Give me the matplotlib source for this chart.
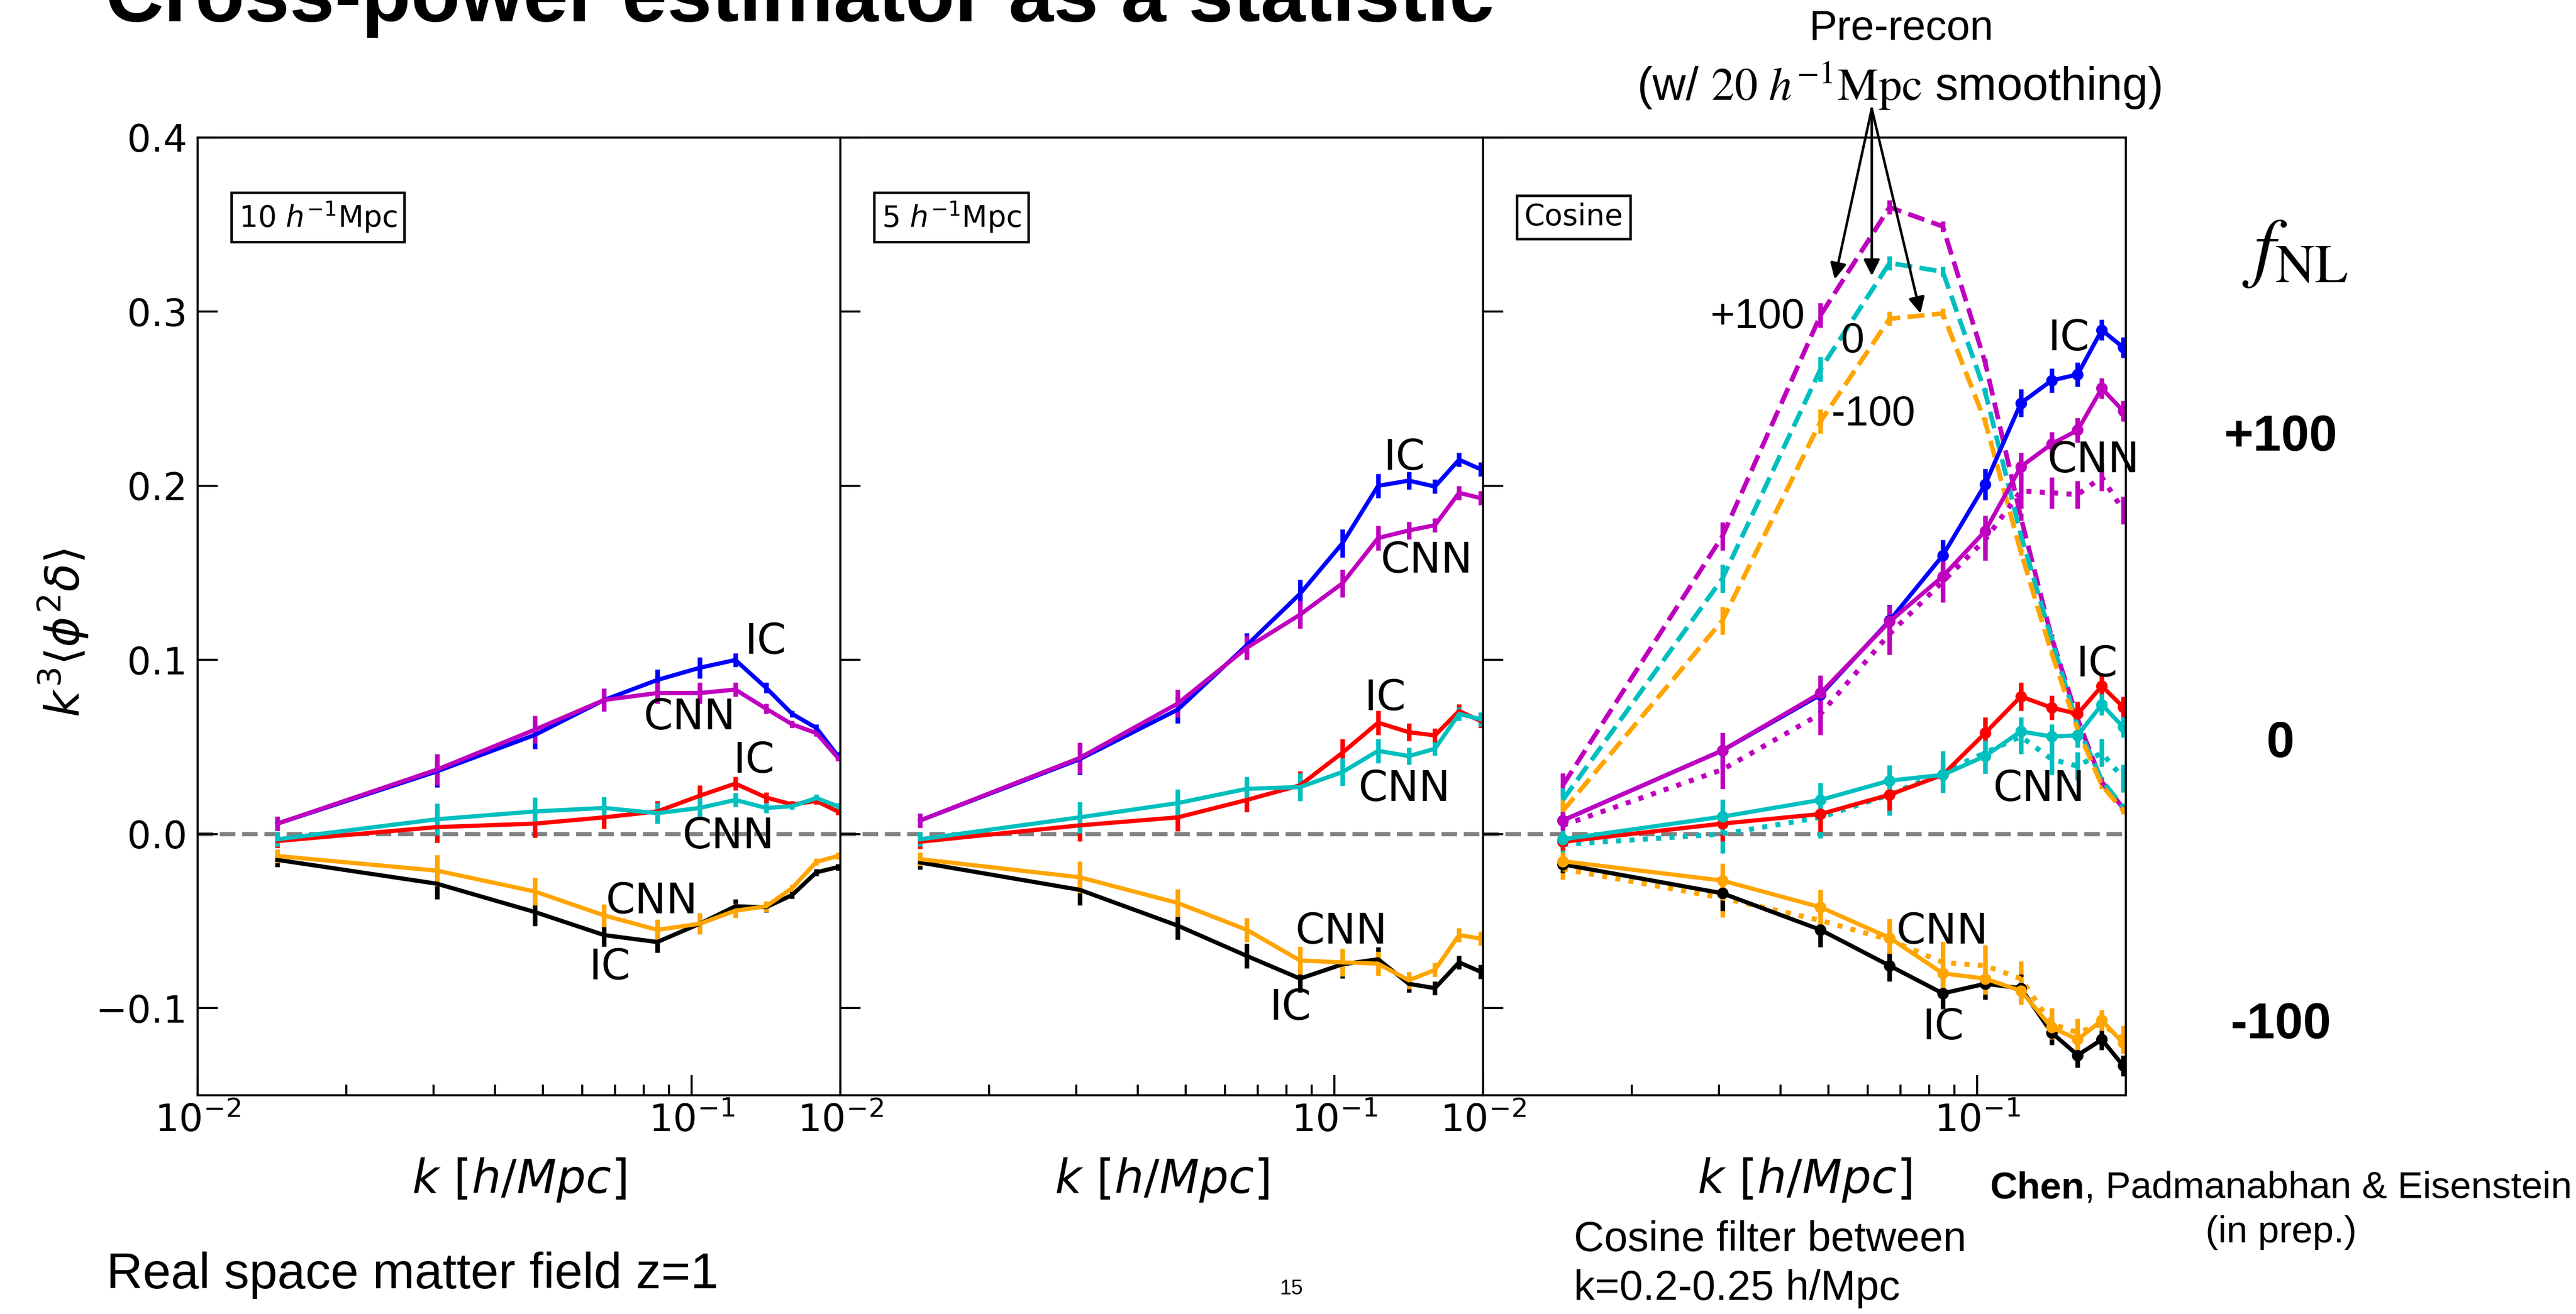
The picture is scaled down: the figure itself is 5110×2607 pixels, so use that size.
import matplotlib
matplotlib.use('Agg')
import matplotlib.pyplot as plt
from matplotlib.ticker import NullFormatter

# ---------------- data ----------------
k = [0.0145, 0.0305, 0.0482, 0.0665, 0.0852, 0.1038, 0.1226, 0.1415, 0.1598, 0.1788, 0.1975]

# panel 1 : 10 h^-1 Mpc smoothing
p1_ic_p100 = [0.006, 0.036, 0.057, 0.077, 0.0885, 0.0955, 0.100, 0.084, 0.069, 0.061, 0.045]
p1_cnn_p100 = [0.006, 0.037, 0.060, 0.077, 0.081, 0.081, 0.083, 0.072, 0.063, 0.058, 0.044]
p1_ic_0 = [-0.004, 0.004, 0.006, 0.0096, 0.013, 0.022, 0.029, 0.021, 0.017, 0.019, 0.013]
p1_cnn_0 = [-0.003, 0.0085, 0.013, 0.015, 0.012, 0.015, 0.0196, 0.015, 0.016, 0.0207, 0.016]
p1_ic_m100 = [-0.0148, -0.0285, -0.0448, -0.058, -0.062, -0.0515, -0.0415, -0.042, -0.035, -0.022, -0.019]
p1_cnn_m100 = [-0.0126, -0.021, -0.033, -0.0467, -0.055, -0.0515, -0.044, -0.0415, -0.031, -0.016, -0.0126]
p1_err = [0.004, 0.009, 0.008, 0.0065, 0.006, 0.006, 0.004, 0.003, 0.002, 0.002, 0.002]

# panel 2 : 5 h^-1 Mpc smoothing
p2_ic_p100 = [0.0078, 0.043, 0.0715, 0.1085, 0.138, 0.167, 0.200, 0.203, 0.1996, 0.215, 0.2096]
p2_cnn_p100 = [0.0078, 0.0437, 0.075, 0.107, 0.126, 0.144, 0.170, 0.1744, 0.1774, 0.196, 0.193]
p2_ic_0 = [-0.0044, 0.005, 0.0096, 0.0196, 0.028, 0.0467, 0.064, 0.0585, 0.0567, 0.0707, 0.065]
p2_cnn_0 = [-0.003, 0.0096, 0.0178, 0.026, 0.027, 0.0356, 0.0478, 0.0448, 0.049, 0.069, 0.066]
p2_ic_m100 = [-0.0163, -0.032, -0.0526, -0.070, -0.083, -0.0748, -0.0719, -0.086, -0.0885, -0.0737, -0.079]
p2_cnn_m100 = [-0.0144, -0.0248, -0.0396, -0.055, -0.0726, -0.0737, -0.0744, -0.084, -0.078, -0.058, -0.060]
p2_err = [0.004, 0.009, 0.008, 0.007, 0.008, 0.008, 0.007, 0.005, 0.004, 0.004, 0.004]

# panel 3 : cosine filter
p3_ic_p100 = [0.0078, 0.048, 0.080, 0.1226, 0.160, 0.2008, 0.2475, 0.2605, 0.264, 0.2895, 0.2795]
p3_cnn_p100 = [0.0078, 0.048, 0.081, 0.122, 0.148, 0.174, 0.211, 0.224, 0.232, 0.256, 0.243]
p3_cnnd_p100 = [0.005, 0.037, 0.069, 0.115, 0.145, 0.169, 0.197, 0.196, 0.195, 0.205, 0.186]
p3_ic_0 = [-0.0044, 0.006, 0.0115, 0.0226, 0.034, 0.058, 0.079, 0.0726, 0.069, 0.085, 0.073]
p3_cnn_0 = [-0.003, 0.010, 0.0196, 0.0307, 0.034, 0.0448, 0.059, 0.056, 0.0567, 0.0744, 0.0615]
p3_cnnd_0 = [-0.006, 0.0, 0.0096, 0.0226, 0.0356, 0.0467, 0.056, 0.043, 0.039, 0.0467, 0.032]
p3_ic_m100 = [-0.0174, -0.034, -0.055, -0.0756, -0.0915, -0.086, -0.0885, -0.114, -0.127, -0.118, -0.133]
p3_cnn_m100 = [-0.0156, -0.0267, -0.042, -0.0596, -0.080, -0.083, -0.090, -0.111, -0.118, -0.107, -0.120]
p3_cnnd_m100 = [-0.020, -0.0367, -0.0496, -0.0607, -0.0737, -0.0756, -0.083, -0.109, -0.114, -0.109, -0.118]
p3_pre_p100 = [0.028, 0.171, 0.298, 0.360, 0.349, 0.271, 0.182, 0.113, 0.066, 0.030, 0.015]
p3_pre_0 = [0.0196, 0.1467, 0.267, 0.328, 0.323, 0.254, 0.172, 0.112, 0.062, 0.031, 0.0155]
p3_pre_m100 = [0.0133, 0.1226, 0.237, 0.296, 0.299, 0.237, 0.162, 0.104, 0.060, 0.028, 0.0135]
p3_err = [0.005, 0.010, 0.010, 0.009, 0.009, 0.009, 0.008, 0.007, 0.007, 0.006, 0.006]
p3_err_dot = [0.006, 0.011, 0.012, 0.012, 0.012, 0.012, 0.010, 0.009, 0.008, 0.008, 0.008]
p3_err_pre = [0.007, 0.008, 0.007, 0.004, 0.003, 0.002, 0.002, 0.002, 0.002, 0.002, 0.002]

panel_titles = ['10 $h^{-1}$Mpc', '5 $h^{-1}$Mpc', 'Cosine']
yticks = [-0.1, 0.0, 0.1, 0.2, 0.3, 0.4]

# ---------------- figure ----------------
W, H, DPI = 5110, 2607, 300
fig = plt.figure(figsize=(W / DPI, H / DPI), dpi=DPI)
fig.patch.set_facecolor('white')


def fx(px):
    return px / W


def fy(py):
    return 1 - py / H


SANS = 'Liberation Sans'
ax_left = [392, 1667, 2942]
ax_w = 1275
top, bot = 273, 2173

C_BLUE, C_MAG, C_RED, C_CYAN, C_BLACK, C_ORANGE = 'b', 'm', 'r', 'c', 'k', 'orange'

axes = []
for i, L in enumerate(ax_left):
    ax = fig.add_axes([fx(L), fy(bot), ax_w / W, (bot - top) / H])
    ax.set_xscale('log')
    ax.set_xlim(0.01, 0.2)
    ax.set_ylim(-0.15, 0.4)
    ax.set_yticks(yticks)
    ax.xaxis.set_minor_formatter(NullFormatter())
    ax.tick_params(which='both', direction='in', top=False, right=False, labelsize=18)
    ax.tick_params(which='major', length=9.5, width=1.0)
    ax.tick_params(which='minor', length=5, width=1.0)
    ax.tick_params(axis='y', pad=5)
    if i > 0:
        ax.tick_params(labelleft=False)
    for s in ax.spines.values():
        s.set_linewidth(1.0)
    ax.axhline(0, color='gray', ls='--', lw=2, zorder=0)
    ax.set_xlabel(r'$k\ [h/Mpc]$', fontsize=22, labelpad=8)
    ax.text(0.064, 0.917, panel_titles[i], transform=ax.transAxes, fontsize=14,
            ha='left', va='center',
            bbox=dict(boxstyle='square,pad=0.25', fc='white', ec='black', lw=1.2))
    axes.append(ax)

LW = 2.0
ELW = 2.2


def eb(ax, y, err, color, ls='-', marker=None, lw=LW):
    line = ax.errorbar(k, y, yerr=err, color=color, ls=ls, lw=lw, elinewidth=ELW,
                       capsize=0, marker=marker, ms=4.5 if marker else 0)
    if ls != '-':
        line[-1][0].set_linestyle('-')
    return line


# panel 1
ax = axes[0]
for y, c in [(p1_ic_p100, C_BLUE), (p1_cnn_p100, C_MAG), (p1_ic_0, C_RED),
             (p1_cnn_0, C_CYAN), (p1_ic_m100, C_BLACK), (p1_cnn_m100, C_ORANGE)]:
    eb(ax, y, p1_err, c)

# panel 2
ax = axes[1]
for y, c in [(p2_ic_p100, C_BLUE), (p2_cnn_p100, C_MAG), (p2_ic_0, C_RED),
             (p2_cnn_0, C_CYAN), (p2_ic_m100, C_BLACK), (p2_cnn_m100, C_ORANGE)]:
    eb(ax, y, p2_err, c)

# panel 3
ax = axes[2]
for y, c in [(p3_pre_p100, C_MAG), (p3_pre_0, C_CYAN), (p3_pre_m100, C_ORANGE)]:
    eb(ax, y, p3_err_pre, c, ls='--', lw=2.2)
for y, c in [(p3_cnnd_p100, C_MAG), (p3_cnnd_0, C_CYAN), (p3_cnnd_m100, C_ORANGE)]:
    eb(ax, y, p3_err_dot, c, ls=':', lw=2.4)
for y, c in [(p3_ic_p100, C_BLUE), (p3_cnn_p100, C_MAG), (p3_ic_0, C_RED),
             (p3_cnn_0, C_CYAN), (p3_ic_m100, C_BLACK), (p3_cnn_m100, C_ORANGE)]:
    eb(ax, y, p3_err, c, marker='o')

# curve labels
labels = [
    [('IC', 0.1413, 0.1105), ('CNN', 0.099, 0.067), ('IC', 0.134, 0.042),
     ('CNN', 0.1187, -0.0015), ('CNN', 0.083, -0.0387), ('IC', 0.0683, -0.0765)],
    [('IC', 0.1387, 0.216), ('CNN', 0.1535, 0.157), ('IC', 0.1268, 0.078),
     ('CNN', 0.1384, 0.026), ('CNN', 0.1033, -0.056), ('IC', 0.0815, -0.0997)],
    [('IC', 0.1535, 0.2846), ('CNN', 0.1718, 0.2145), ('IC', 0.175, 0.0974),
     ('CNN', 0.1333, 0.026), ('CNN', 0.085, -0.056), ('IC', 0.0854, -0.111)],
]
for ax, labs in zip(axes, labels):
    for t, xx, yy in labs:
        ax.text(xx, yy, t, fontsize=20, ha='center', va='center', clip_on=False)

# fNL labels of the pre-recon curves
for t, xx, yy in [('+100', 0.0360, 0.297), ('0', 0.0559, 0.283), ('-100', 0.0616, 0.241)]:
    axes[2].text(xx, yy, t, fontsize=20, family=SANS, ha='center', va='center')

# arrows
tail = (0.0612, 0.4166)
for tip in [(0.0515, 0.3186), (0.0612, 0.3206), (0.0768, 0.299)]:
    axes[2].annotate('', xy=tip, xytext=tail, xycoords='data', textcoords='data',
                     annotation_clip=False,
                     arrowprops=dict(arrowstyle='-|>', color='black', lw=1.2,
                                     mutation_scale=16, shrinkA=0, shrinkB=0))

# y label
fig.text(fx(124), fy(1255), r'$k^3\langle\phi^2\delta\rangle$', rotation=90,
         ha='center', va='center', fontsize=22)

# title (partially cut at the top edge, as on the slide)
fig.text(fx(209), fy(42), 'Cross-power estimator as a statistic', fontsize=38.5,
         weight='bold', family=SANS, ha='left', va='baseline')

# pre-recon annotation text
fig.text(fx(3771), fy(79), 'Pre-recon', fontsize=20, family=SANS, ha='center', va='baseline')
fig.text(fx(3767), fy(199), r'(w/ $20\ h^{-1}\mathrm{Mpc}$ smoothing)', fontsize=22,
         family=SANS, math_fontfamily='stix', ha='center', va='baseline')

# right side
fig.text(fx(4553), fy(500), r'$f_{\rm NL}$', fontsize=37, math_fontfamily='stix',
         ha='center', va='center')
for t, py in [('+100', 868), ('0', 1476), ('-100', 2034)]:
    fig.text(fx(4524), fy(py), t, fontsize=24, weight='bold', family=SANS,
             ha='center', va='center')

# author line: bold "Chen" + regular rest, centred
renderer = fig.canvas.get_renderer()
t1 = fig.text(0, fy(2377), 'Chen', fontsize=18, weight='bold', family=SANS, va='baseline')
t2 = fig.text(0, fy(2377), ', Padmanabhan & Eisenstein', fontsize=18, family=SANS, va='baseline')
w1 = t1.get_window_extent(renderer).width
w2 = t2.get_window_extent(renderer).width
x0 = 4525 - (w1 + w2) / 2
t1.set_x(fx(x0))
t2.set_x(fx(x0 + w1))
fig.text(fx(4525), fy(2465), '(in prep.)', fontsize=18, family=SANS, ha='center', va='baseline')

fig.text(fx(3122), fy(2482), 'Cosine filter between', fontsize=20, family=SANS, ha='left', va='baseline')
fig.text(fx(3122), fy(2579), 'k=0.2-0.25 h/Mpc', fontsize=20, family=SANS, ha='left', va='baseline')
fig.text(fx(211), fy(2556), 'Real space matter field z=1', fontsize=24, family=SANS,
         ha='left', va='baseline')
fig.text(fx(2562), fy(2568), '15', fontsize=10, family=SANS, ha='center', va='baseline')

fig.savefig('out.png', dpi=DPI)
